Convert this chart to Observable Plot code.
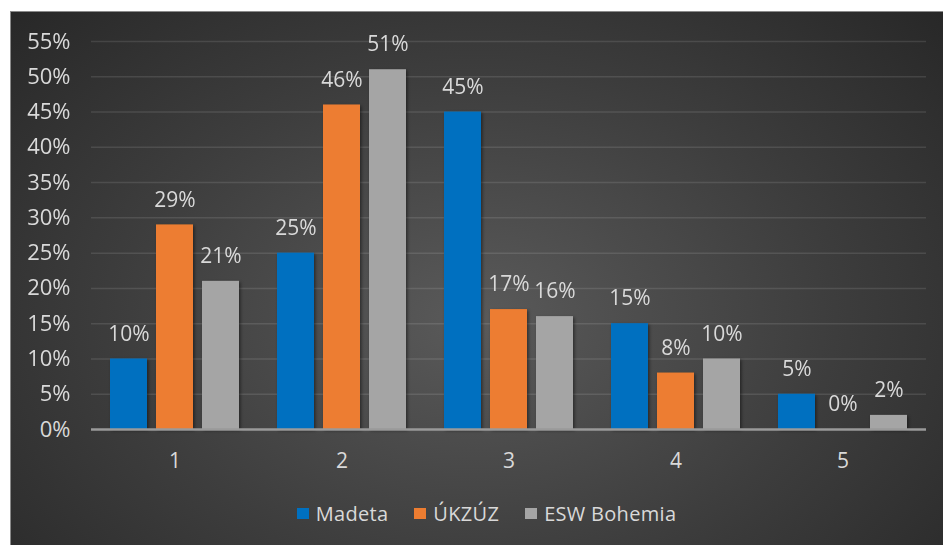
<!DOCTYPE html>
<html>
<head>
<meta charset="utf-8">
<script src="https://cdn.jsdelivr.net/npm/d3@7"></script>
<script src="https://cdn.jsdelivr.net/npm/@observablehq/plot@0.6"></script>
<style>
  html, body { margin: 0; padding: 0; background: #ffffff; width: 943px; height: 545px; overflow: hidden; }
  #panel {
    position: absolute; left: 10px; top: 11px; width: 933px; height: 534px;
    background: radial-gradient(ellipse 70% 85% at 50% 58%, #5a5a5a 0%, #3d3d3d 55%, #272727 100%);
    box-shadow: inset 1px 1px 0 #8a8a8a;
    font-family: "Open Sans", sans-serif;
  }
  #chart svg { display: block; }
  #legend {
    height: 46px; display: flex; align-items: center; justify-content: center;
    padding-left: 20px; color: #d9d9d9; font-size: 20px; letter-spacing: 0.3px;
  }
  .item { display: flex; align-items: center; margin: 0 13px; }
  .sw { width: 12px; height: 11px; margin-right: 7px; }
</style>
</head>
<body>
<div id="panel">
  <div id="chart"></div>
  <div id="legend"></div>
</div>
<script>
const categories = ["1", "2", "3", "4", "5"];
const series = ["Madeta", "ÚKZÚZ", "ESW Bohemia"];
const madeta = [10, 25, 45, 15, 5];
const ukzuz = [29, 46, 17, 8, 0];
const esw = [21, 51, 16, 10, 2];
const colors = ["#0070C0", "#ED7D31", "#A5A5A5"];
const yTicks = [0, 5, 10, 15, 20, 25, 30, 35, 40, 45, 50, 55];

const valuesBySeries = [madeta, ukzuz, esw];
const data = [];
categories.forEach((c, i) => {
  series.forEach((s, j) => {
    data.push({cat: c, series: s, value: valuesBySeries[j][i]});
  });
});

const plot = Plot.plot({
  width: 933,
  height: 479,
  marginLeft: 81,
  marginRight: 17,
  marginTop: 30,
  marginBottom: 61,
  style: {background: "transparent", color: "#d9d9d9", fontFamily: "Open Sans, sans-serif", overflow: "visible"},
  fx: {domain: categories, padding: 0, label: null},
  x: {domain: series, paddingInner: 0.1957, paddingOuter: 0.413, axis: null},
  y: {domain: [0, 55], label: null},
  color: {domain: series, range: colors},
  marks: [
    Plot.ruleY(yTicks.filter(t => t > 0), {stroke: "#ffffff", strokeOpacity: 0.11, strokeWidth: 1.5}),
    Plot.barY(data, {fx: "cat", x: "series", y: "value", fill: "series"}),
    Plot.ruleY([0], {stroke: "#9a9a9a", strokeWidth: 2.5}),
    Plot.text(data, {fx: "cat", x: "series", y: "value", text: d => d.value + "%", dy: -25, fontSize: 21, fill: "#d9d9d9"}),
    Plot.axisY({ticks: yTicks, tickFormat: d => d + "%", tickSize: 0, tickPadding: 21, fontSize: 22, label: null}),
    Plot.axisFx({anchor: "bottom", tickSize: 0, tickPadding: 24, fontSize: 21, label: null})
  ]
});

// subtle drop shadow on bars
const svg = d3.select(plot);
const defs = svg.insert("defs", ":first-child");
const f = defs.append("filter").attr("id", "barshadow")
  .attr("x", "-30%").attr("y", "-10%").attr("width", "160%").attr("height", "130%");
f.append("feDropShadow").attr("dx", 1.5).attr("dy", 1.5).attr("stdDeviation", 1.5)
  .attr("flood-color", "#000").attr("flood-opacity", 0.45);
svg.selectAll("g[aria-label='bar']").attr("filter", "url(#barshadow)");
// category labels of the facet axis at full size
svg.selectAll("text").filter(function() { return categories.includes(this.textContent); })
  .style("font-size", "21px");

document.getElementById("chart").appendChild(plot);

const legend = document.getElementById("legend");
series.forEach((s, j) => {
  const item = document.createElement("div");
  item.className = "item";
  const sw = document.createElement("span");
  sw.className = "sw";
  sw.style.background = colors[j];
  const t = document.createElement("span");
  t.textContent = s;
  item.appendChild(sw);
  item.appendChild(t);
  legend.appendChild(item);
});
</script>
</body>
</html>
